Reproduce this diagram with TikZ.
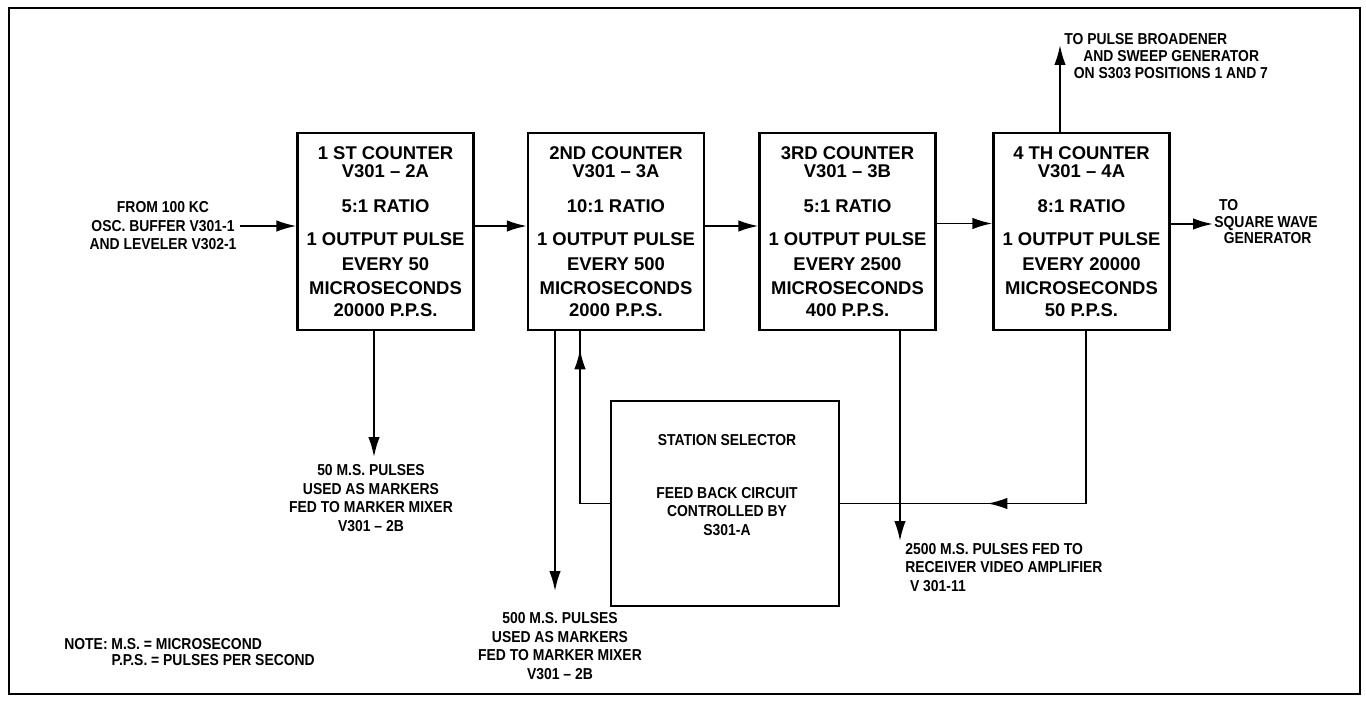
\documentclass[tikz,border=0pt]{standalone}
\usepackage{fontspec}
\setmainfont{Liberation Sans}
\newfontfamily\lblfont{Liberation Sans}[FakeStretch=0.88,Ligatures=TeX]
\usetikzlibrary{arrows.meta,decorations.markings}

\tikzset{
  counter/.style={draw,line width=1.3pt,minimum width=3.52cm,minimum height=3.94cm,inner sep=0pt,align=center,font=\fontsize{10.5}{12.6}\selectfont\bfseries},
  lbl/.style={align=center,inner sep=0pt,font=\lblfont\fontsize{9}{10.5}\selectfont\bfseries},
  wire/.style={line width=1.1pt},
  arr/.style={wire,-{Latex[length=4mm,width=2.3mm]}},
  midarrow/.style={wire,postaction={decorate},decoration={markings,mark=at position #1 with {\arrow{Latex[length=4mm,width=2.3mm]}}}}
}

\begin{document}
\begin{tikzpicture}[x=0.02cm,y=-0.02cm]
	\useasboundingbox (0,0) rectangle (1366,702);
	\draw[line width=1.1pt] (9,8) rectangle (1360,694);

	% counters
	\node[counter] (c1) at (385.5,231.5) {1 ST COUNTER\\[-2.4pt] V301 -- 2A\\[7.3pt] 5:1 RATIO\\[6.2pt] 1 OUTPUT PULSE\\[1.6pt] EVERY 50\\[1pt] MICROSECONDS\\ 20000 P.P.S.};
	\node[counter] (c2) at (616,231.5) {2ND COUNTER\\[-2.4pt] V301 -- 3A\\[7.3pt] 10:1 RATIO\\[6.2pt] 1 OUTPUT PULSE\\[1.6pt] EVERY 500\\[1pt] MICROSECONDS\\ 2000 P.P.S.};
	\node[counter] (c3) at (847.5,231.5) {3RD COUNTER\\[-2.4pt] V301 -- 3B\\[7.3pt] 5:1 RATIO\\[6.2pt] 1 OUTPUT PULSE\\[1.6pt] EVERY 2500\\[1pt] MICROSECONDS\\ 400 P.P.S.};
	\node[counter] (c4) at (1081.5,231.5) {4 TH COUNTER\\[-2.4pt] V301 -- 4A\\[7.3pt] 8:1 RATIO\\[6.2pt] 1 OUTPUT PULSE\\[1.6pt] EVERY 20000\\[1pt] MICROSECONDS\\ 50 P.P.S.};

	\draw[arr] ([yshift=1.1mm]c1.east) -- ([yshift=1.1mm]c2.west);
	\draw[arr] ([yshift=1.1mm]c2.east) -- ([yshift=1.1mm]c3.west);
	\draw[arr] ([yshift=1.6mm]c3.east) -- ([yshift=1.6mm]c4.west);

	% input
	\node[lbl] (src) at (163,226) {FROM 100 KC\\ OSC. BUFFER V301-1\\ AND LEVELER V302-1};
	\coordinate (srcend) at (240,226);
	\draw[arr] (srcend) -- (c1.west |- srcend);

	% outputs
	\coordinate (outend) at (1213,224);
	\draw[arr] (c4.east |- outend) -- (outend);
	\node[lbl,anchor=west,align=left] (dst) at (1214,222) {\hspace{0.3em}TO\\[-1.1pt] SQUARE WAVE\\[-1.1pt] \hspace{0.6em}GENERATOR};

	\coordinate (upend) at (1060,45);
	\draw[arr] (c4.north -| upend) -- (upend);
	\node[lbl,anchor=west,align=left] (brd) at (1064,56) {TO PULSE BROADENER\\[-1pt] \hspace{1.2em}AND SWEEP GENERATOR\\[-1pt] \hspace{0.6em}ON S303 POSITIONS 1 AND 7};

	% marker outputs
	\coordinate (d1) at (374,457);
	\draw[arr] (c1.south -| d1) -- (d1);
	\node[lbl] (mk1) at (371,498) {50 M.S. PULSES\\ USED AS MARKERS\\ FED TO MARKER MIXER\\ V301 -- 2B};

	\coordinate (d2) at (555,591);
	\draw[arr] (c2.south -| d2) -- (d2);
	\node[lbl] (mk2) at (560,646) {500 M.S. PULSES\\ USED AS MARKERS\\ FED TO MARKER MIXER\\ V301 -- 2B};

	\coordinate (d3) at (900,541);
	\draw[arr] (c3.south -| d3) -- (d3);
	\node[lbl,anchor=north west,align=left] (mk3) at (905,543) {2500 M.S. PULSES FED TO\\ RECEIVER VIDEO AMPLIFIER\\ \hspace{0.3em}V 301-11};

	% feedback loop
	\node[draw,line width=1.3pt,minimum width=4.56cm,minimum height=4.1cm] (ss) at (725,503.5) {};
	\node[lbl] (sstext) at (727,485) {STATION SELECTOR\\[19.5pt] FEED BACK CIRCUIT\\ CONTROLLED BY\\ S301-A};
	\draw[midarrow=0.91] (ss.west) -| ([xshift=-7.2mm]c2.south);
	\coordinate (r4) at (1086,503.5);
	\draw[midarrow=0.648] (c4.south -| r4) -- (r4) -- (ss.east);

	\node[lbl,anchor=west,align=left] (note) at (64,652) {NOTE: M.S. = MICROSECOND\\[-1.5pt] \phantom{NOTE: }P.P.S. = PULSES PER SECOND};
\end{tikzpicture}
\end{document}
